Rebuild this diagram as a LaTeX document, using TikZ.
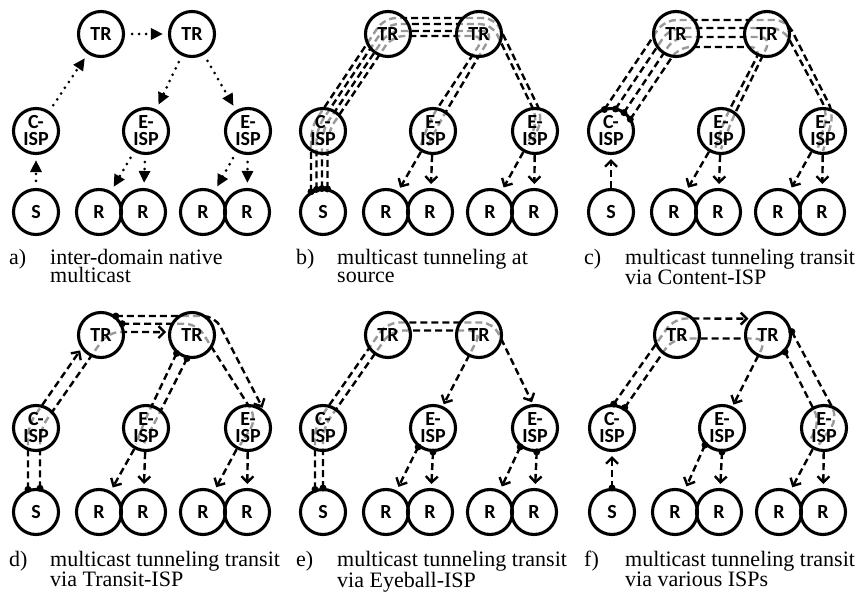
\documentclass[tikz,border=0pt]{standalone}
\usepackage{fontspec}
\setmainfont{Liberation Serif}
\newfontfamily\ispfont{Carlito}
\usetikzlibrary{arrows.meta,calc}
\pgfdeclarelayer{back}
\pgfdeclarelayer{front}
\pgfsetlayers{back,main,front}
\tikzset{
  isp/.style={draw, circle, line width=3.1pt, minimum size=45pt, inner sep=0pt, align=center,
    font=\ispfont\bfseries\fontsize{20}{17}\selectfont},
  captext/.style={anchor=base west, inner sep=0pt, font=\fontsize{22}{18}\selectfont},
  native/.style={line width=3pt, line cap=round, dash pattern=on 0pt off 7pt,
    -{Triangle[length=12pt,width=11pt]}, shorten <=7pt, shorten >=5pt},
  uni/.style={line width=2.4pt, dash pattern=on 7pt off 4pt, ->, shorten >=4pt},
  tun/.style={line width=2.4pt, dash pattern=on 7pt off 4pt, rounded corners=12pt},
  tunwhite/.style={white, line width=5pt, rounded corners=12pt},
  tungray/.style={black!40, line width=2.4pt, dash pattern=on 7pt off 4pt, rounded corners=12pt},
  >={Straight Barb[length=6pt,width=12pt]},
}
% the ten domains of one panel
\newcommand{\ispnet}[5]{%
  \node[isp] (#1-tr1) at (#2+101,#3) {TR};
  \node[isp] (#1-tr2) at (#2+192,#3) {TR};
  \node[isp] (#1-ci) at (#2+36,#4) {C-\\ISP};
  \node[isp] (#1-e1) at (#2+146,#4) {E-\\ISP};
  \node[isp] (#1-e2) at (#2+248,#4) {E-\\ISP};
  \node[isp] (#1-s) at (#2+36,#5) {S};
  \node[isp] (#1-r1) at (#2+99,#5) {R};
  \node[isp] (#1-r2) at (#2+143,#5) {R};
  \node[isp] (#1-r3) at (#2+203,#5) {R};
  \node[isp] (#1-r4) at (#2+247,#5) {R};
}
% inside of the domains a tunnel passes through
\newcommand{\ispclip}[1]{\clip (#1-tr1.center) circle (21.2pt) (#1-tr2.center) circle (21.2pt)
  (#1-ci.center) circle (21.2pt) (#1-e1.center) circle (21.2pt) (#1-e2.center) circle (21.2pt);}
\newcommand{\panelcap}[5]{%
  \node[captext] (#1-lbl) at (#2+9,#3) {#1)};
  \node[captext] (#1-txt) at (#2+50,#3) {\parbox[t]{260pt}{\raggedright #4\\#5}};
}

\begin{document}
\begin{tikzpicture}[x=1pt, y=-1pt]
  \useasboundingbox (0,0) rectangle (859,596);

  % Place the six networks
  \ispnet{a}{0}{34}{131}{212}
  \ispnet{b}{287}{34}{131}{212}
  \ispnet{c}{575}{34}{131}{212}
  \ispnet{d}{0}{335}{428}{512}
  \ispnet{e}{287}{335}{428}{512}
  \ispnet{f}{576}{335}{428}{512}

  % Captions
  \panelcap{a}{0}{264}{inter-domain native}{multicast}
  \panelcap{b}{287}{264}{multicast tunneling at}{source}
  \panelcap{c}{575}{264}{multicast tunneling transit}{via Content-ISP}
  \panelcap{d}{0}{566}{multicast tunneling transit}{via Transit-ISP}
  \panelcap{e}{287}{566}{multicast tunneling transit}{via Eyeball-ISP}
  \panelcap{f}{575}{566}{multicast tunneling transit}{via various ISPs}

  % a) native multicast
  \draw[native] (a-s) -- (a-ci);
  \draw[native] (a-ci) -- (a-tr1);
  \draw[native] (a-tr1) -- (a-tr2);
  \draw[native] (a-tr2) -- (a-e1);
  \draw[native] (a-tr2) -- (a-e2);
  \foreach \src/\dst in {e1/r1,e1/r2,e2/r3,e2/r4} \draw[native] (a-\src) -- (a-\dst);

  % b) four tunnels from the source
  \def\tunBa{($(b-s.center)+(-12,-20.2)$) -- ($(b-ci.center)+(-12,-3.6)$) -- ($(b-tr1.center)+(-3.8,-16)$) -- ($(b-tr2.center)+(16,-16)$) -- ($(b-e2.center)+(8,-14)$) -- ($(b-e2.center)+(-4,14)$)}
  \def\tunBb{($(b-s.center)+(-6.5,-22.6)$) -- ($(b-ci.center)+(-6.5,-2)$) -- ($(b-tr1.center)+(-1.2,-10)$) -- ($(b-tr2.center)+(13,-10)$) -- ($(b-e2.center)+(3,-12)$) -- ($(b-e2.center)+(-8,14)$)}
  \def\tunBc{($(b-s.center)+(-1,-23.5)$) -- ($(b-ci.center)+(-1,-0.3)$) -- ($(b-tr1.center)+(0.8,-3)$) -- ($(b-tr2.center)+(14.8,-3)$) -- ($(b-e1.center)+(8.6,-12)$) -- ($(b-e1.center)+(-6,16)$)}
  \def\tunBd{($(b-s.center)+(4.5,-23.1)$) -- ($(b-ci.center)+(4.5,1.4)$) -- ($(b-tr1.center)+(4.1,2)$) -- ($(b-tr2.center)+(6.2,2)$) -- ($(b-e1.center)+(-2.6,-12)$) -- ($(b-e1.center)+(-12,14)$)}
  \begin{pgfonlayer}{back}
    \foreach \p in {\tunBa,\tunBb,\tunBc,\tunBd} \draw[tun] \p;
    \begin{scope}
      \ispclip{b}
      \foreach \p in {\tunBa,\tunBb,\tunBc,\tunBd} {\draw[tunwhite] \p; \draw[tungray] \p;}
    \end{scope}
  \end{pgfonlayer}
  \begin{pgfonlayer}{front}
    \foreach \dx/\dy in {-12/-20.2,-6.5/-22.6,-1/-23.5,4.5/-23.1} \fill ($(b-s.center)+(\dx,\dy)$) circle (3.5pt);
  \end{pgfonlayer}
  \foreach \src/\dst in {e1/r1,e1/r2,e2/r3,e2/r4} \draw[uni] (b-\src) -- (b-\dst);

  % c) four tunnels from the content ISP
  \def\tunCa{($(c-ci.center)+(-6.6,-21.5)$) -- ($(c-tr1.center)+(-11.7,-14)$) -- ($(c-tr2.center)+(19.6,-14)$) -- ($(c-e2.center)+(11,-17)$) -- ($(c-e2.center)+(0,20)$)}
  \def\tunCb{($(c-ci.center)+(4.5,-22)$) -- ($(c-tr1.center)+(-6.2,-6)$) -- ($(c-tr2.center)+(16.2,-6)$) -- ($(c-e2.center)+(5,-18)$) -- ($(c-e2.center)+(-6,20)$)}
  \def\tunCc{($(c-ci.center)+(12.9,-18.4)$) -- ($(c-tr1.center)+(-1.4,3)$) -- ($(c-tr2.center)+(4.7,3)$) -- ($(c-e1.center)+(11.3,-12)$) -- ($(c-e1.center)+(0,18)$)}
  \def\tunCd{($(c-ci.center)+(19.3,-11.7)$) -- ($(c-tr1.center)+(2.7,13)$) -- ($(c-tr2.center)+(-4.9,13)$) -- ($(c-e1.center)+(3.7,-12)$) -- ($(c-e1.center)+(-6,18)$)}
  \begin{pgfonlayer}{back}
    \foreach \p in {\tunCa,\tunCb,\tunCc,\tunCd} \draw[tun] \p;
    \begin{scope}
      \ispclip{c}
      \foreach \p in {\tunCa,\tunCb,\tunCc,\tunCd} {\draw[tunwhite] \p; \draw[tungray] \p;}
    \end{scope}
  \end{pgfonlayer}
  \begin{pgfonlayer}{front}
    \foreach \dx/\dy in {-6.6/-21.5,4.5/-22,12.9/-18.4,19.3/-11.7} \fill ($(c-ci.center)+(\dx,\dy)$) circle (3.5pt);
  \end{pgfonlayer}
  \draw[uni] (c-s) -- (c-ci);
  \foreach \src/\dst in {e1/r1,e1/r2,e2/r3,e2/r4} \draw[uni] (c-\src) -- (c-\dst);

  % d) tunnels to and from the transit ISP
  \def\tunDa{($(d-s.center)+(-8,-22.6)$) -- ($(d-ci.center)+(-8,-2.5)$) -- (d-tr1.215)}
  \def\tunDb{($(d-s.center)+(4,-23.7)$) -- ($(d-ci.center)+(4,1.3)$) -- ($(d-tr1.center)+(7,-3)$) -- (d-tr2.173)}
  \def\tunDc{(d-tr1.52) -- ($(d-tr2.center)+(23,-19)$) -- (d-e2.50)}
  \def\tunDd{(d-tr1.28) -- ($(d-tr2.center)+(4.8,-11.3)$) -- ($(d-e2.center)+(9,-9)$) -- ($(d-e2.center)+(-8,17)$)}
  \def\tunDe{(d-tr2.230) -- ($(d-e1.center)+(-1,-8)$) -- ($(d-e1.center)+(-10,16)$)}
  \def\tunDf{(d-tr2.258) -- ($(d-e1.center)+(9,-6)$) -- ($(d-e1.center)+(-3,17)$)}
  \begin{pgfonlayer}{back}
    \foreach \p in {\tunDa,\tunDb,\tunDc} \draw[tun, ->, shorten >=2pt] \p;
    \foreach \p in {\tunDd,\tunDe,\tunDf} \draw[tun] \p;
    \begin{scope}
      \ispclip{d}
      \foreach \p in {\tunDa,\tunDb,\tunDc,\tunDd,\tunDe,\tunDf} {\draw[tunwhite] \p; \draw[tungray] \p;}
    \end{scope}
  \end{pgfonlayer}
  \begin{pgfonlayer}{front}
    \fill ($(d-s.center)+(-8,-22.6)$) circle (3.5pt) ($(d-s.center)+(4,-23.7)$) circle (3.5pt);
    \fill (d-tr1.52) circle (3.5pt) (d-tr1.28) circle (3.5pt);
    \fill (d-tr2.230) circle (3.5pt) (d-tr2.258) circle (3.5pt);
  \end{pgfonlayer}
  \foreach \src/\dst in {e1/r1,e1/r2,e2/r3,e2/r4} \draw[uni] (d-\src) -- (d-\dst);

  % e) tunnels to the eyeball ISPs
  \def\tunEa{($(e-s.center)+(-8,-22.6)$) -- ($(e-ci.center)+(-8,-2.5)$) -- ($(e-tr1.center)+(-1,-12.5)$) -- ($(e-tr2.center)+(14.2,-12.5)$) -- (e-e2.95)}
  \def\tunEb{($(e-s.center)+(0,-24)$) -- ($(e-ci.center)+(0,0)$) -- ($(e-tr1.center)+(3.1,-4.5)$) -- ($(e-tr2.center)+(3,-4.5)$) -- (e-e1.66)}
  \begin{pgfonlayer}{back}
    \foreach \p in {\tunEa,\tunEb} \draw[tun, ->, shorten >=2pt] \p;
    \begin{scope}
      \ispclip{e}
      \foreach \p in {\tunEa,\tunEb} {\draw[tunwhite] \p; \draw[tungray] \p;}
    \end{scope}
  \end{pgfonlayer}
  \begin{pgfonlayer}{front}
    \fill ($(e-s.center)+(-8,-22.6)$) circle (3.5pt) ($(e-s.center)+(0,-24)$) circle (3.5pt);
    \fill (e-e1.232) circle (3.5pt) (e-e1.270) circle (3.5pt);
    \fill (e-e2.232) circle (3.5pt) (e-e2.274) circle (3.5pt);
  \end{pgfonlayer}
  \draw[uni] (e-e1.232) -- (e-r1);
  \draw[uni] (e-e1.270) -- (e-r2);
  \draw[uni] (e-e2.232) -- (e-r3);
  \draw[uni] (e-e2.274) -- (e-r4);

  % f) tunnels at various ISPs
  \def\tunFa{(f-ci.86) -- ($(f-tr1.center)+(-3,-16.5)$) -- (f-tr2.137)}
  \def\tunFb{(f-ci.58) -- ($(f-tr1.center)+(-4.3,3.5)$) -- ($(f-tr2.center)+(-1.1,3.5)$) -- (f-e1.64)}
  \def\tunFc{(f-tr2.8) -- ($(f-e2.center)+(14,-10)$) -- ($(f-e2.center)+(-6,18)$)}
  \def\tunFd{(f-tr2.315) -- ($(f-e2.center)+(-4,-6)$) -- ($(f-e2.center)+(-14,12)$)}
  \begin{pgfonlayer}{back}
    \foreach \p in {\tunFa,\tunFb} \draw[tun, ->, shorten >=2pt] \p;
    \foreach \p in {\tunFc,\tunFd} \draw[tun] \p;
    \begin{scope}
      \ispclip{f}
      \foreach \p in {\tunFa,\tunFb,\tunFc,\tunFd} {\draw[tunwhite] \p; \draw[tungray] \p;}
    \end{scope}
  \end{pgfonlayer}
  \begin{pgfonlayer}{front}
    \fill (f-s.90) circle (3.5pt) (f-ci.86) circle (3.5pt) (f-ci.58) circle (3.5pt);
    \fill (f-tr2.8) circle (3.5pt) (f-tr2.315) circle (3.5pt);
    \fill (f-e1.225) circle (3.5pt) (f-e1.270) circle (3.5pt);
  \end{pgfonlayer}
  \draw[uni] (f-s.90) -- (f-ci);
  \draw[uni] (f-e1.225) -- (f-r1);
  \draw[uni] (f-e1.270) -- (f-r2);
  \draw[uni] (f-e2) -- (f-r3);
  \draw[uni] (f-e2) -- (f-r4);
\end{tikzpicture}
\end{document}
